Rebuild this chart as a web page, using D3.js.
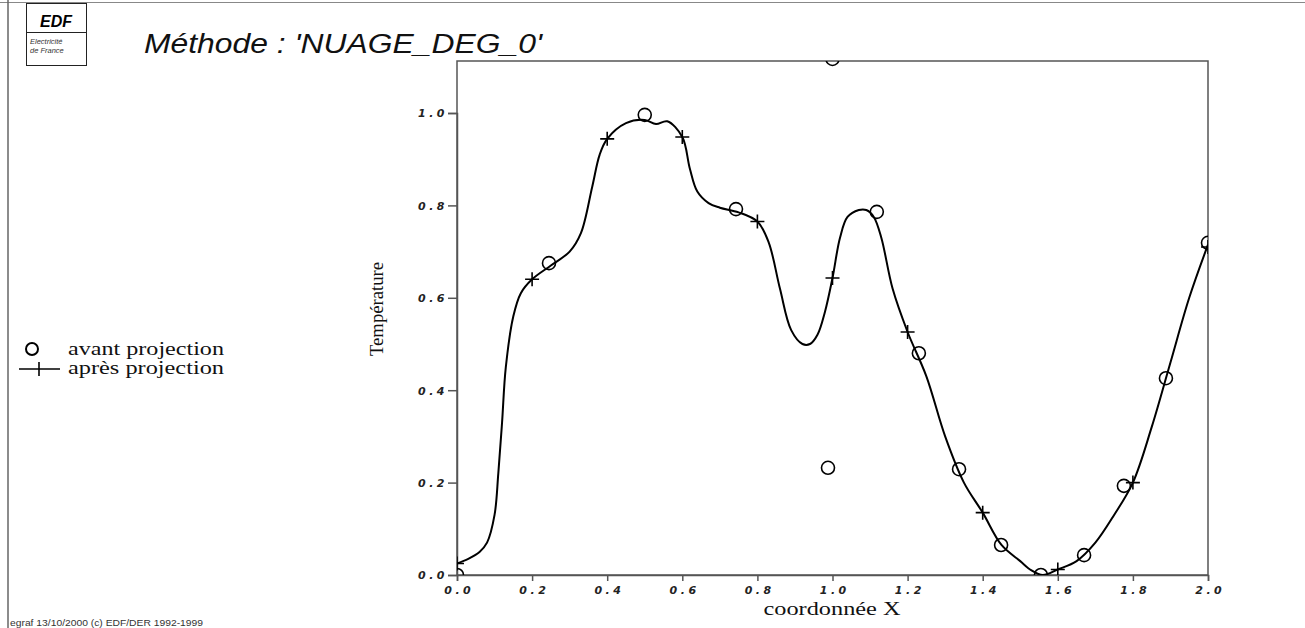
<!DOCTYPE html>
<html>
<head>
<meta charset="utf-8">
<script src="https://cdn.jsdelivr.net/npm/d3@7"></script>
<style>
  body { margin: 0; background: #fff; }
  .tick-lbl { font-family: "DejaVu Sans", sans-serif; font-weight: bold; font-style: italic; font-size: 11px; letter-spacing: 3.5px; fill: #222; }
  .serif { font-family: "Liberation Serif", "Times New Roman", serif; fill: #111; }
</style>
</head>
<body>
<div id="chart"></div>
<script>
// curve after projection (dense trace)
const curveX = [0, 0.03, 0.06, 0.08, 0.1, 0.11, 0.12, 0.13, 0.15, 0.17, 0.2, 0.25, 0.3, 0.33, 0.36, 0.38, 0.4, 0.45, 0.5, 0.53, 0.56, 0.6, 0.62, 0.64, 0.67, 0.7, 0.75, 0.8, 0.83, 0.86, 0.89, 0.92, 0.94, 0.96, 0.98, 1.0, 1.02, 1.04, 1.07, 1.09, 1.11, 1.13, 1.16, 1.2, 1.25, 1.3, 1.35, 1.4, 1.45, 1.5, 1.53, 1.56, 1.6, 1.65, 1.7, 1.75, 1.8, 1.85, 1.9, 1.95, 2.0];
const curveY = [0.025, 0.035, 0.05, 0.07, 0.13, 0.22, 0.33, 0.45, 0.56, 0.61, 0.64, 0.67, 0.70, 0.74, 0.84, 0.91, 0.944, 0.978, 0.985, 0.976, 0.982, 0.948, 0.88, 0.83, 0.805, 0.795, 0.785, 0.765, 0.72, 0.62, 0.53, 0.50, 0.50, 0.52, 0.57, 0.643, 0.73, 0.775, 0.79, 0.79, 0.775, 0.73, 0.62, 0.526, 0.43, 0.30, 0.20, 0.135, 0.065, 0.03, 0.01, 0.0, 0.012, 0.03, 0.07, 0.13, 0.20, 0.32, 0.46, 0.60, 0.715];

// points before projection (circles)
const avantX = [0, 0.245, 0.5, 0.743, 0.988, 1.0, 1.118, 1.23, 1.337, 1.449, 1.555, 1.67, 1.776, 1.888, 2.0];
const avantY = [0, 0.675, 0.996, 0.792, 0.232, 1.117, 0.786, 0.48, 0.229, 0.065, 0.0, 0.043, 0.193, 0.426, 0.719];

// points after projection (plus marks)
const apresX = [0, 0.2, 0.4, 0.6, 0.8, 1.0, 1.2, 1.4, 1.6, 1.8, 2.0];
const apresY = [0.025, 0.64, 0.944, 0.948, 0.765, 0.643, 0.526, 0.135, 0.012, 0.2, 0.71];

const xTicks = [0, 0.2, 0.4, 0.6, 0.8, 1.0, 1.2, 1.4, 1.6, 1.8, 2.0];
const yTicks = [0, 0.2, 0.4, 0.6, 0.8, 1.0];

const W = 1305, H = 628;
const plot = { left: 457, right: 1208, top: 61, bottom: 575 };

const svg = d3.select("#chart").append("svg")
    .attr("width", W)
    .attr("height", H);

// page frame
svg.append("line").attr("x1", 0).attr("x2", W).attr("y1", 2.5).attr("y2", 2.5)
    .attr("stroke", "#888").attr("stroke-width", 1);
svg.append("line").attr("x1", 8).attr("x2", 8).attr("y1", 0).attr("y2", H)
    .attr("stroke", "#666").attr("stroke-width", 1.5);

// EDF logo
let logo = svg.append("g");
logo.append("rect").attr("x", 26.5).attr("y", 3.5).attr("width", 60).attr("height", 62)
    .attr("fill", "none").attr("stroke", "#222").attr("stroke-width", 1);
logo.append("line").attr("x1", 26.5).attr("x2", 86.5).attr("y1", 32.5).attr("y2", 32.5)
    .attr("stroke", "#222").attr("stroke-width", 1);
logo.append("text").attr("x", 56).attr("y", 27).attr("text-anchor", "middle")
    .style("font-family", "Liberation Sans, Arial, sans-serif").style("font-weight", "bold")
    .style("font-style", "italic").style("font-size", "16px").text("EDF");
logo.append("text").attr("x", 30).attr("y", 44)
    .style("font-family", "Liberation Sans, Arial, sans-serif").style("font-style", "italic")
    .style("font-size", "7.5px").attr("fill", "#333").text("Electricité");
logo.append("text").attr("x", 30).attr("y", 53)
    .style("font-family", "Liberation Sans, Arial, sans-serif").style("font-style", "italic")
    .style("font-size", "7.5px").attr("fill", "#333").text("de France");

// title
svg.append("text").attr("x", 144).attr("y", 53)
    .style("font-family", "Liberation Sans, Arial, sans-serif").style("font-style", "italic")
    .style("font-size", "27px").attr("fill", "#111")
    .attr("textLength", 398).attr("lengthAdjust", "spacingAndGlyphs")
    .text("Méthode : 'NUAGE_DEG_0'");

// scales
const x = d3.scaleLinear().domain([0, 2]).range([plot.left, plot.right]);
const y = d3.scaleLinear().domain([0, 1]).range([plot.bottom, 113]);

// plot frame
svg.append("rect").attr("x", plot.left).attr("y", plot.top)
    .attr("width", plot.right - plot.left).attr("height", plot.bottom - plot.top)
    .attr("fill", "none").attr("stroke", "#555").attr("stroke-width", 1.5);

// axes
const xAxis = d3.axisBottom(x).tickValues(xTicks).tickFormat(d3.format(".1f")).tickSize(6).tickPadding(5);
const yAxis = d3.axisLeft(y).tickValues(yTicks).tickFormat(d3.format(".1f")).tickSize(9).tickPadding(0);

let gx = svg.append("g").attr("transform", "translate(0," + plot.bottom + ")").call(xAxis);
let gy = svg.append("g").attr("transform", "translate(" + plot.left + ",0)").call(yAxis);
[gx, gy].forEach(g => {
    g.select(".domain").attr("stroke", "#555").attr("stroke-width", 1.5);
    g.selectAll(".tick line").attr("stroke", "#555").attr("stroke-width", 1.5);
    g.selectAll(".tick text").attr("class", "tick-lbl");
});
gy.selectAll(".tick text").attr("dy", "0.35em");
gx.selectAll(".tick text").attr("dx", "1.75px");

// axis titles
svg.append("text").attr("class", "serif").attr("x", 832).attr("y", 615)
    .attr("text-anchor", "middle").style("font-size", "18px")
    .attr("textLength", 137).attr("lengthAdjust", "spacingAndGlyphs").text("coordonnée X");
svg.append("text").attr("class", "serif")
    .attr("transform", "translate(383,309) rotate(-90)")
    .attr("text-anchor", "middle").style("font-size", "19px")
    .attr("textLength", 94).attr("lengthAdjust", "spacingAndGlyphs").text("Température");

// clip to plot
svg.append("clipPath").attr("id", "clip").append("rect")
    .attr("x", plot.left).attr("y", plot.top)
    .attr("width", plot.right - plot.left).attr("height", plot.bottom - plot.top);

let area = svg.append("g").attr("clip-path", "url(#clip)");

const curveData = curveX.map((d, i) => [d, curveY[i]]);
const line = d3.line().x(d => x(d[0])).y(d => y(d[1])).curve(d3.curveCatmullRom.alpha(0.5));

area.append("path").datum(curveData)
    .attr("d", line)
    .attr("fill", "none").attr("stroke", "#000").attr("stroke-width", 2);

area.selectAll(".avant").data(avantX.map((d, i) => [d, avantY[i]]))
    .enter().append("circle").attr("class", "avant")
    .attr("cx", d => x(d[0])).attr("cy", d => y(d[1])).attr("r", 6.5)
    .attr("fill", "none").attr("stroke", "#000").attr("stroke-width", 1.6);

area.selectAll(".apres").data(apresX.map((d, i) => [d, apresY[i]]))
    .enter().append("path").attr("class", "apres")
    .attr("d", d => {
        let px = x(d[0]), py = y(d[1]), s = 7;
        return "M" + (px - s) + "," + py + "H" + (px + s) + "M" + px + "," + (py - s) + "V" + (py + s);
    })
    .attr("stroke", "#000").attr("stroke-width", 1.6).attr("fill", "none");

// legend
let leg = svg.append("g");
leg.append("circle").attr("cx", 32).attr("cy", 349).attr("r", 6)
    .attr("fill", "none").attr("stroke", "#000").attr("stroke-width", 2);
leg.append("text").attr("class", "serif").attr("x", 68).attr("y", 355)
    .style("font-size", "19px").attr("textLength", 156).attr("lengthAdjust", "spacingAndGlyphs")
    .text("avant projection");
leg.append("line").attr("x1", 19).attr("x2", 60).attr("y1", 369).attr("y2", 369)
    .attr("stroke", "#000").attr("stroke-width", 1.6);
leg.append("line").attr("x1", 39).attr("x2", 39).attr("y1", 362).attr("y2", 376)
    .attr("stroke", "#000").attr("stroke-width", 1.6);
leg.append("text").attr("class", "serif").attr("x", 68).attr("y", 374)
    .style("font-size", "19px").attr("textLength", 156).attr("lengthAdjust", "spacingAndGlyphs")
    .text("après projection");

// footer
svg.append("text").attr("x", 10).attr("y", 626)
    .style("font-family", "Liberation Sans, Arial, sans-serif").style("font-size", "8.5px")
    .attr("fill", "#333").attr("textLength", 193).attr("lengthAdjust", "spacingAndGlyphs")
    .text("egraf 13/10/2000 (c) EDF/DER 1992-1999");
</script>
</body>
</html>
